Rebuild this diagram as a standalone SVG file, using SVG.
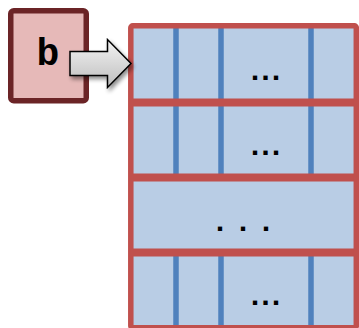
<svg xmlns="http://www.w3.org/2000/svg" width="359" height="328" viewBox="0 0 359 328">
  <style>
    .dots { font-family: "Liberation Mono", "DejaVu Sans Mono", monospace; font-weight: bold; fill: #000; font-size: 30px; }
    .tight { letter-spacing: -7.5px; }
    .wide { letter-spacing: -6.5px; }
    .sep { stroke: #C0504D; stroke-width: 8; }
    .col { stroke: #4F81BD; stroke-width: 5.5; }
  </style>
  <defs>
    <linearGradient id="arrowFill" x1="0" y1="0" x2="0" y2="1">
      <stop offset="0" stop-color="#f4f4f4"/>
      <stop offset="1" stop-color="#bdbdbd"/>
    </linearGradient>
    <filter id="shadow" x="-20%" y="-20%" width="150%" height="150%">
      <feGaussianBlur in="SourceAlpha" stdDeviation="2"/>
      <feOffset dx="2" dy="3" result="b"/>
      <feComponentTransfer><feFuncA type="linear" slope="0.45"/></feComponentTransfer>
      <feMerge><feMergeNode/><feMergeNode in="SourceGraphic"/></feMerge>
    </filter>
  </defs>

  <!-- variable box -->
  <g id="node-b">
    <rect x="10.75" y="10.75" width="75.5" height="90" rx="3" fill="#E6B9B8" stroke="#6B2426" stroke-width="5.5"/>
    <text x="48" y="65" font-family="'Liberation Mono', 'DejaVu Sans Mono', monospace" font-weight="bold" font-size="38" text-anchor="middle">b</text>
  </g>

  <!-- 2-D array: four rows -->
  <g id="node-array">
    <rect x="130.8" y="25.8" width="225.5" height="302" fill="#B9CDE5"/>
    <!-- column dividers, rows 1, 2 and 4 -->
    <g class="col">
      <line x1="176" y1="28" x2="176" y2="177"/>
      <line x1="221" y1="28" x2="221" y2="177"/>
      <line x1="311" y1="28" x2="311" y2="177"/>
      <line x1="176" y1="252" x2="176" y2="328"/>
      <line x1="221" y1="252" x2="221" y2="328"/>
      <line x1="311" y1="252" x2="311" y2="328"/>
    </g>
    <!-- row dividers -->
    <g class="sep">
      <line x1="130.8" y1="102.5" x2="356.3" y2="102.5"/>
      <line x1="130.8" y1="177.5" x2="356.3" y2="177.5"/>
      <line x1="130.8" y1="252.5" x2="356.3" y2="252.5"/>
    </g>
    <rect x="130.8" y="25.8" width="225.5" height="302" rx="2" fill="none" stroke="#C0504D" stroke-width="5.5"/>
    <text class="dots tight" x="246" y="80">...</text>
    <text class="dots tight" x="246" y="155">...</text>
    <text class="dots wide" x="211" y="230.5">. . .</text>
    <text class="dots tight" x="246" y="305">...</text>
  </g>

  <!-- pointer arrow -->
  <g id="connectors">
    <path d="M70,51.5 H107.5 V39.5 L131,63.5 L107.5,87.5 V75.5 H70 Z" fill="url(#arrowFill)" stroke="#000" stroke-width="1.5" stroke-linejoin="miter" filter="url(#shadow)"/>
  </g>
</svg>
